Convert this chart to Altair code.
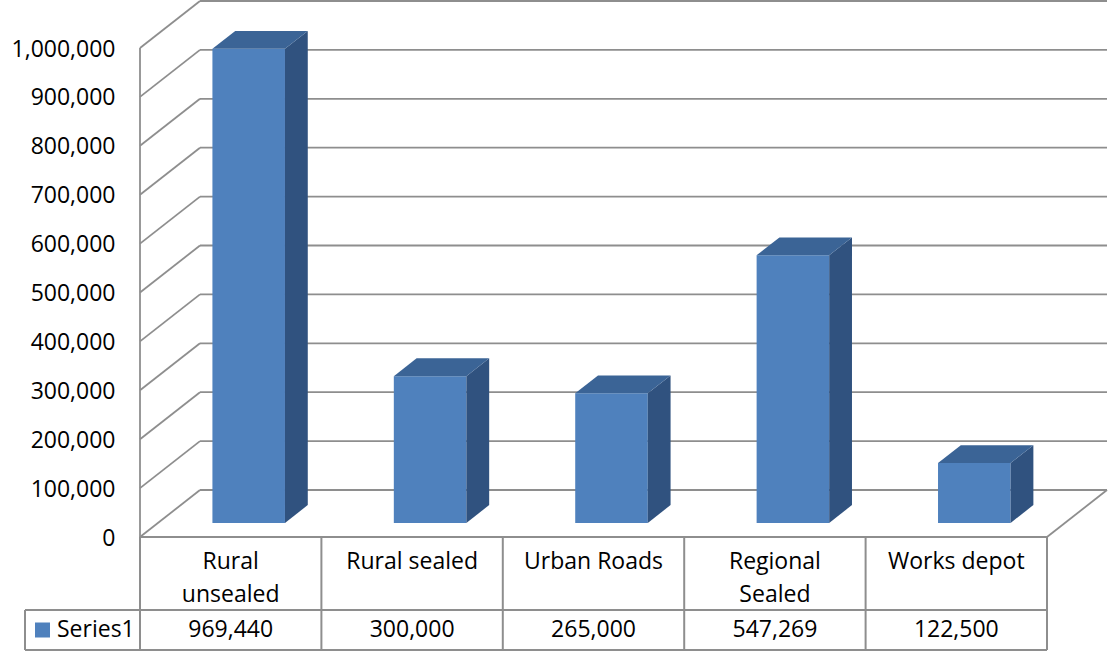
import altair as alt
import pandas as pd

# ---- data ----
categories = ["Rural unsealed", "Rural sealed", "Urban Roads", "Regional Sealed", "Works depot"]
header_lines = [["Rural", "unsealed"], ["Rural sealed"], ["Urban Roads"], ["Regional", "Sealed"], ["Works depot"]]
values = [969440, 300000, 265000, 547269, 122500]
series_name = "Series1"
tick_values = list(range(0, 1_000_001, 100_000))

# ---- layout (pixels) ----
W, H = 1113, 652
ORIGIN_X, ORIGIN_Y = 140, 537          # front-left corner of the floor
SLOT_PX = 181.4                        # width of one category slot
PX_PER_UNIT = 489 / 1_000_000          # vertical pixels per value unit
FLOOR_DX_PX, FLOOR_DY_PX = 60, 47      # oblique depth of the floor
BAR_FRONT, BAR_BACK = 0.30, 0.68       # bar depth span, as fraction of floor depth
BAR_W = 0.40                           # bar width in slots
HEADER_LINE_PX = [25, 58]              # header text lines below the floor edge
VALUE_ROW_PX = 93
HEADER_H_PX, ROW_H_PX = 73, 113
TABLE_LEFT_PX = 25

FONT = "Open Sans"
FONT_SIZE = 23
GRID = "#8e8e8e"
FRONT, SIDE, TOP = "#4f81bd", "#30527f", "#3b6496"
NUM_FORMAT = ",.0f"


def sx(p):
    return p / SLOT_PX


def sy(p):
    return p / PX_PER_UNIT


DX, DY = sx(FLOOR_DX_PX), sy(FLOOR_DY_PX)
N = len(categories)

x_scale = alt.Scale(domain=[-ORIGIN_X / SLOT_PX, (W - ORIGIN_X) / SLOT_PX], nice=False, zero=False)
y_scale = alt.Scale(domain=[-(H - ORIGIN_Y) / PX_PER_UNIT, ORIGIN_Y / PX_PER_UNIT], nice=False, zero=False)
y_axis = alt.Axis(values=tick_values, format=NUM_FORMAT, offset=-ORIGIN_X, labelPadding=25,
                  ticks=False, domain=False, grid=False, title=None, labelFont=FONT,
                  labelFontSize=FONT_SIZE, labelColor="black", labelOffset=1)


def X(f="x"):
    return alt.X(f"{f}:Q", scale=x_scale, axis=None)


def Y(f="y"):
    return alt.Y(f"{f}:Q", scale=y_scale, axis=y_axis)


# ---- walls and floor ----
seg = []
for v in tick_values:
    seg.append(dict(x=0, y=v, x2=DX, y2=v + DY))              # left wall
    seg.append(dict(x=DX, y=v + DY, x2=N + DX, y2=v + DY))    # back wall
seg.append(dict(x=0, y=0, x2=0, y2=tick_values[-1]))         # left wall edge
seg.append(dict(x=N, y=0, x2=N + DX, y2=DY))                 # floor right edge
walls = alt.Chart(pd.DataFrame(seg)).mark_rule(color=GRID, strokeWidth=1.8).encode(
    x=X(), y=Y(), x2="x2:Q", y2="y2:Q")

# ---- data table grid ----
T1, T2, XL = -sy(HEADER_H_PX), -sy(ROW_H_PX), sx(TABLE_LEFT_PX - ORIGIN_X)
tl = [dict(x=0, y=0, x2=N, y2=0),
      dict(x=XL, y=T1, x2=N, y2=T1),
      dict(x=XL, y=T2, x2=N, y2=T2),
      dict(x=XL, y=T1, x2=XL, y2=T2)]
for i in range(N + 1):
    tl.append(dict(x=i, y=0, x2=i, y2=T2))
table_lines = alt.Chart(pd.DataFrame(tl)).mark_rule(color=GRID, strokeWidth=2).encode(
    x=X(), y=Y(), x2="x2:Q", y2="y2:Q")

# ---- 3D bars ----
bdx, bdy = (BAR_BACK - BAR_FRONT) * DX, (BAR_BACK - BAR_FRONT) * DY
front, side, top = [], [], []
for i, (c, v) in enumerate(zip(categories, values)):
    xl = i + 0.5 - BAR_W / 2 + BAR_FRONT * DX
    xr = xl + BAR_W
    yb = BAR_FRONT * DY
    yt = v + BAR_FRONT * DY
    front.append(dict(cat=c, x=xl, x2=xr, y=yb, y2=yt))
    side.append(dict(cat=c, x=xr, y=yb, y2=yt))
    side.append(dict(cat=c, x=xr + bdx, y=yb + bdy, y2=yt + bdy))
    top.append(dict(cat=c, y=yt, x=xl, x2=xr))
    top.append(dict(cat=c, y=yt + bdy, x=xl + bdx, x2=xr + bdx))

bar_front = alt.Chart(pd.DataFrame(front)).mark_rect(color=FRONT).encode(
    x=X(), x2="x2:Q", y=Y(), y2="y2:Q")
bar_side = alt.Chart(pd.DataFrame(side)).mark_area(color=SIDE).encode(
    x=X(), y=Y(), y2="y2:Q", detail="cat:N")
bar_top = alt.Chart(pd.DataFrame(top)).mark_area(color=TOP, orient="horizontal").encode(
    y=Y(), x=X(), x2="x2:Q", detail="cat:N")

# ---- table text ----
hdr = []
for i, lines in enumerate(header_lines):
    for k, line in enumerate(lines):
        hdr.append(dict(x=i + 0.5, y=-sy(HEADER_LINE_PX[k]), t=line))
header_text = alt.Chart(pd.DataFrame(hdr)).mark_text(
    font=FONT, fontSize=FONT_SIZE, color="black", baseline="middle", align="center").encode(
    x=X(), y=Y(), text="t:N")

val_df = pd.DataFrame(dict(x=[i + 0.5 for i in range(N)], y=[-sy(VALUE_ROW_PX)] * N, v=values))
value_text = alt.Chart(val_df).mark_text(
    font=FONT, fontSize=FONT_SIZE, color="black", baseline="middle", align="center").encode(
    x=X(), y=Y(), text=alt.Text("v:Q", format=NUM_FORMAT))

key_df = pd.DataFrame(dict(x=[sx(42.5 - ORIGIN_X)], tx=[sx(57 - ORIGIN_X)],
                           y=[-sy(VALUE_ROW_PX)], t=[series_name]))
key_square = alt.Chart(key_df).mark_square(color=FRONT, size=225, opacity=1).encode(x=X(), y=Y())
key_text = alt.Chart(key_df).mark_text(
    font=FONT, fontSize=FONT_SIZE, color="black", baseline="middle", align="left").encode(
    x=X("tx"), y=Y(), text="t:N")

chart = alt.layer(
    walls, table_lines, bar_front, bar_side, bar_top,
    header_text, value_text, key_square, key_text
).properties(
    width=W, height=H, padding=0, autosize=alt.AutoSizeParams(type="none"), background="white"
).configure_view(stroke=None)

chart.save("out.html", embed_options={"renderer": "svg", "actions": False})
